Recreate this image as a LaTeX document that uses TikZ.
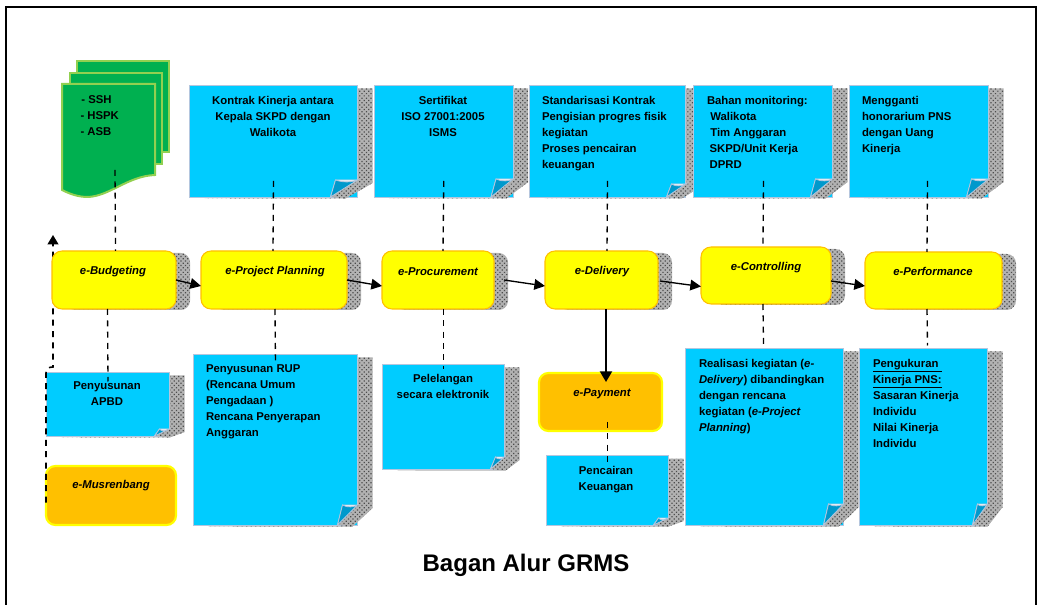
\documentclass[tikz,border=0pt]{standalone}
\usepackage{fontspec}
\setmainfont{Liberation Sans}
\usetikzlibrary{arrows.meta,patterns.meta,calc}
\definecolor{noteblue}{HTML}{00CCFF}
\definecolor{noteedge}{HTML}{B4C6DE}
\definecolor{foldblue}{HTML}{0099CC}
\definecolor{pillyellow}{HTML}{FFFF00}
\definecolor{pillorange}{HTML}{FFC000}
\definecolor{docgreen}{HTML}{00B050}
\definecolor{docedge}{HTML}{92D050}
\tikzset{
  boxshape/.style={rectangle,inner sep=0pt,outer sep=0pt},
  shadowfill/.style={preaction={fill=black!30},pattern={Dots[distance=2.4pt,radius=.65pt,angle=45]},pattern color=black!70},
  notefill/.style={boxshape,draw=noteedge,fill=noteblue,line width=.7pt},
  foldfill/.style={draw=noteedge,fill=foldblue,line width=.6pt},
  pillfill/.style={boxshape,draw=pillorange,fill=pillyellow,line width=.8pt,rounded corners=7.5pt},
  payfill/.style={boxshape,draw=pillyellow,fill=pillorange,line width=1.6pt,rounded corners=7pt},
  docpage/.style={draw=docedge,fill=docgreen,line width=1.5pt},
  txt/.style={inner sep=0pt,outer sep=0pt,font=\fontsize{8.5}{12}\selectfont\bfseries,align=center,anchor=north},
  ltxt/.style={txt,align=left,anchor=north west},
  pilltxt/.style={inner sep=0pt,outer sep=0pt,font=\fontsize{8.5}{12}\selectfont\bfseries\itshape},
  dashlink/.style={black,line width=1pt,dash pattern=on 4.5pt off 4pt},
  flowlink/.style={black,line width=1pt,-{Triangle[length=8pt,width=8pt]}},
  paylink/.style={black,line width=1.5pt,-{Triangle[length=8pt,width=9pt]}},
}
\newcommand{\notebox}[7]{%
  \pgfmathsetmacro{\nbw}{(#4-#2)*.75}\pgfmathsetmacro{\nbh}{(#5-#3)*.75}%
  \path[shadowfill] (#2+15,#5+1.5) -- (#4+15-#6,#5+1.5) -- (#4+15,#5-#7+3) -- (#4+15,#3+3) -- (#4,#3+3) -- (#4,#5) -- cycle;%
  \node[notefill,minimum width=\nbw pt,minimum height=\nbh pt] (#1) at ({(#2+#4)/2},{(#3+#5)/2}) {};%
  \path[draw=noteedge,fill=white,line width=.6pt] (#4-#6,#5) -- (#4-#6+5,#5-#7) -- (#4,#5-#7) -- cycle;%
  \path[shadowfill] (#4-#6,#5) -- (#4,#5-#7) -- (#4+15,#5-#7+3) -- (#4+15-#6,#5+1.5) -- cycle;%
  \path[foldfill] (#4-#6,#5) -- (#4-#6+5,#5-#7) .. controls (#4-#6*.5,#5-#7+3) and (#4-#6*.2,#5-#7+2) .. (#4,#5-#7) -- cycle;%
}
\newcommand{\pillbox}[5]{%
  \pgfmathsetmacro{\nbw}{(#4-#2)*.75}\pgfmathsetmacro{\nbh}{(#5-#3)*.75}%
  \path[shadowfill,rounded corners=7pt] (#2+14,#3+2) rectangle (#4+14,#5+1);%
  \node[pillfill,minimum width=\nbw pt,minimum height=\nbh pt] (#1) at ({(#2+#4)/2},{(#3+#5)/2}) {};%
}
\newcommand{\paybox}[5]{%
  \pgfmathsetmacro{\nbw}{(#4-#2)*.75}\pgfmathsetmacro{\nbh}{(#5-#3)*.75}%
  \node[payfill,minimum width=\nbw pt,minimum height=\nbh pt] (#1) at ({(#2+#4)/2},{(#3+#5)/2}) {};%
}
\begin{document}
\begin{tikzpicture}[x=.75pt,y=-.75pt]
\useasboundingbox (0,0) rectangle (1038,605);
\fill[white] (0,0) rectangle (1038,605);
\draw[black,line width=1.6pt] (6,605) -- (6,7) -- (1036,7) -- (1036,605);
% stacked documents
\path[docpage] (77,61) rectangle (169,152);
\path[docpage] (70,73) rectangle (162,164);
\path[docpage] (62,84) -- (155,84) -- (155,175) .. controls (128,176) and (110,196) .. (88,197) .. controls (78,197) and (70,194) .. (62,190) -- cycle;
\coordinate (docb) at (115,170);
% notes, top row
\notebox{n1}{189.5}{85.5}{357.5}{197}{27}{17}
\notebox{n2}{374.5}{85.5}{513}{197}{22}{18}
\notebox{n3}{529.5}{85.5}{685.5}{197}{19}{13}
\notebox{n4}{693.5}{85.5}{832.5}{197}{22}{18}
\notebox{n5}{849.5}{85.5}{988.5}{197}{22}{18}
% notes, bottom row
\notebox{b1}{46.5}{372.5}{169.5}{436}{15}{7}
\notebox{b2}{193.5}{354.5}{357.5}{525}{20}{20}
\notebox{b3}{382.5}{364.5}{504.5}{469}{14}{12}
\notebox{b4}{546.5}{455.5}{668.5}{525}{15}{7}
\notebox{b5}{685.5}{348.5}{843.5}{525}{20}{21}
\notebox{b6}{859.5}{348.5}{987.5}{525}{15}{21}
% orange boxes
\paybox{musren}{46}{466}{176}{525}{}
\paybox{pay}{539}{373}{662}{431}{}
% feedback link passes behind the yellow box
\coordinate (upend) at (53,235);
\draw[dashlink,line width=1.2pt,-{Triangle[length=7pt,width=8pt]}] ([shift={(0,7)}]musren.west) -- (46,373) .. controls (46,369) and (48,367) .. (53,367) -- (upend);
% yellow boxes
\pillbox{bud}{52}{251}{176}{309}{}
\pillbox{plan}{201}{251}{347}{309}{}
\pillbox{proc}{382}{251}{494}{309}{}
\pillbox{del}{545}{251}{658}{309}{}
\pillbox{con}{701}{247}{831}{304}{}
\pillbox{perf}{865}{252}{1002}{309}{}
% dashed links
\draw[dashlink] (docb) -- ([shift={(1.5,0)}]bud.north);
\draw[dashlink] ([shift={(0,-16)}]n1.south) -- ([shift={(-1,0)}]plan.north);
\draw[dashlink] ([shift={(0,-16)}]n2.south) -- ([shift={(5,0)}]proc.north);
\draw[dashlink] ([shift={(0,-16)}]n3.south) -- ([shift={(5.5,0)}]del.north);
\draw[dashlink] ([shift={(0.5,-16)}]n4.south) -- ([shift={(-3,0)}]con.north);
\draw[dashlink] ([shift={(8.5,-16)}]n5.south) -- ([shift={(-6.5,0)}]perf.north);
\draw[dashlink] ([shift={(-6.5,0)}]bud.south) -- ([shift={(0,9)}]b1.north);
\draw[dashlink] ([shift={(1,0)}]plan.south) -- ([shift={(0,11)}]b2.north);
\draw[dashlink] ([shift={(5.5,0)}]proc.south) -- ([shift={(0,5)}]b3.north);
\draw[dashlink] ([shift={(-3,0)}]con.south) -- ([shift={(-1,-3)}]b5.north);
\draw[dashlink] ([shift={(-6.5,0)}]perf.south) -- ([shift={(4,-3)}]b6.north);
\draw[dashlink] ([shift={(7,-9)}]pay.south) -- ([shift={(0,10)}]b4.north);
% flow arrows
\draw[flowlink] (bud.east) -- ([shift={(0,6)}]plan.west);
\draw[flowlink] (plan.east) -- ([shift={(0,6)}]proc.west);
\draw[flowlink] ([shift={(10,0)}]proc.east) -- ([shift={(0,6)}]del.west);
\draw[flowlink] ([shift={(2,1)}]del.east) -- ([shift={(0,11)}]con.west);
\draw[flowlink] ([shift={(0,5.5)}]con.east) -- ([shift={(0,5.5)}]perf.west);
\draw[paylink] ([shift={(4.5,0)}]del.south) -- ([shift={(5.5,9)}]pay.north);
% texts
\node[ltxt] (tdoc) at (80.5,96) {\hspace{.7pt}- SSH\\- HSPK\\- ASB};
\node[txt] (tn1) at (273,96) {Kontrak Kinerja antara\\Kepala SKPD dengan\\Walikota};
\node[txt] (tn2) at (443,96) {Sertifikat\\ISO 27001:2005\\ISMS};
\node[ltxt] (tn3) at (542,96) {Standarisasi Kontrak\\Pengisian progres fisik\\kegiatan\\Proses pencairan\\keuangan};
\node[ltxt] (tn4) at (707,96) {Bahan monitoring:\\\hspace{2.5pt}Walikota\\\hspace{2.5pt}Tim Anggaran\\\hspace{2pt}SKPD/Unit Kerja\\\hspace{2pt}DPRD};
\node[ltxt] (tn5) at (862,96) {Mengganti\\honorarium PNS\\dengan Uang\\Kinerja};
\node[txt] (tb1) at (107,382) {Penyusunan\\APBD};
\node[ltxt] (tb2) at (206,365) {Penyusunan RUP\\(Rencana Umum\\Pengadaan )\\Rencana Penyerapan\\Anggaran};
\node[txt] (tb3) at (443,374) {Pelelangan\\secara elektronik};
\node[txt] (tb4) at (606,466) {Pencairan\\Keuangan};
\node[ltxt] (tb5) at (699,359) {Realisasi kegiatan (\textit{e-}\\\textit{Delivery}) dibandingkan\\dengan rencana\\kegiatan (\textit{e-Project}\\\textit{Planning})};
\node[ltxt] (tb6) at (873,359) {\underline{Pengukuran\ }\\\underline{Kinerja PNS:}\\Sasaran Kinerja\\Individu\\Nilai Kinerja\\Individu};
\node[pilltxt] (tbud) at (113,271.5) {e-Budgeting};
\node[pilltxt] (tplan) at (275,271.5) {e-Project Planning};
\node[pilltxt] (tproc) at (438,271.5) {e-Procurement};
\node[pilltxt] (tdel) at (602,271.5) {e-Delivery};
\node[pilltxt] (tcon) at (766,267.5) {e-Controlling};
\node[pilltxt] (tperf) at (933,271.5) {e-Performance};
\node[pilltxt] (tmus) at (111,485.5) {e-Musrenbang};
\node[pilltxt] (tpay) at (602,393.5) {e-Payment};
\node[inner sep=0pt,font=\fontsize{18}{20}\selectfont\bfseries] (title) at (526,565) {Bagan Alur GRMS};
\end{tikzpicture}
\end{document}
